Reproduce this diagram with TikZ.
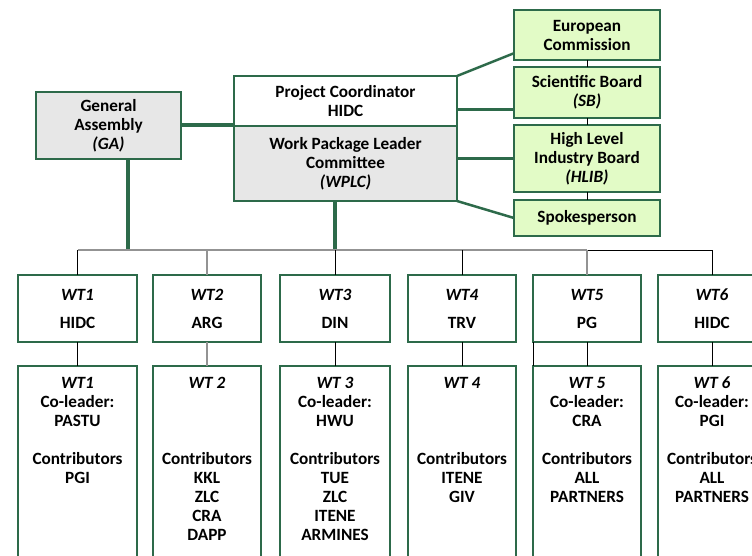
\documentclass[tikz,border=0pt]{standalone}
\usepackage{fontspec}
\setmainfont{Carlito}
\usetikzlibrary{positioning}
\definecolor{boxgreen}{RGB}{45,106,74}
\definecolor{lightgreen}{RGB}{226,251,198}
\definecolor{lightgrey}{RGB}{231,231,231}
\newcommand{\lowtext}[2]{\parbox[t][190pt][t]{#1}{\centering #2}}

\begin{document}
\begin{tikzpicture}[x=1pt,y=-1pt,font=\fontsize{17.2}{19}\selectfont\bfseries]
\tikzstyle{box}=[draw=boxgreen,line width=2.6pt,align=center,inner sep=0pt,outer sep=0pt]
\tikzstyle{gbox}=[box,fill=lightgrey]
\tikzstyle{pbox}=[box,fill=lightgreen,minimum width=146pt]
\tikzstyle{wt}=[box,fill=white,minimum width=108pt,minimum height=67pt]
\tikzstyle{lowbox}=[box,fill=white,inner ysep=11pt]
\tikzstyle{heavy}=[boxgreen,line width=4pt]
\tikzstyle{link}=[boxgreen,line width=2.5pt]
\tikzstyle{thin}=[black,line width=1pt]
\tikzstyle{grey}=[gray!85,line width=1.2pt]
\path[use as bounding box,clip] (0,0) rectangle (752,556);

% governance
\node[gbox,minimum width=145pt,minimum height=67pt] (ga) at (108.5,125.5) {General\\Assembly\\\textit{(GA)}};
\node[box,fill=white,minimum width=223pt,minimum height=50pt] (pc) at (345.5,101) {Project Coordinator\\HIDC};
\node[gbox,minimum width=223pt,minimum height=75pt,below=0pt of pc] (wplc) {Work Package Leader\\Committee\\\textit{(WPLC)}};

\node[pbox,minimum height=50pt] (ec) at (587,35) {European\\Commission};
\node[pbox,minimum height=51pt,below=7pt of ec] (sb) {Scientific Board\\\textit{(SB)}};
\node[pbox,minimum height=67pt,below=7pt of sb] (hlib) {High Level\\Industry Board\\\textit{(HLIB)}};
\node[pbox,minimum height=36pt,below=8pt of hlib] (sp) {Spokesperson};

% work tasks
\node[wt,minimum width=119pt] (wt1) at (77.5,308.5) {\textit{WT1}\\[9pt]HIDC};
\node[wt] (wt2) at (207,308.5) {\textit{WT2}\\[9pt]ARG};
\node[wt,minimum width=110pt] (wt3) at (335,308.5) {\textit{WT3}\\[9pt]DIN};
\node[wt] (wt4) at (462,308.5) {\textit{WT4}\\[9pt]TRV};
\node[wt] (wt5) at (587,308.5) {\textit{WT5}\\[9pt]PG};
\node[wt] (wt6) at (712,308.5) {\textit{WT6}\\[9pt]HIDC};

\node[lowbox,below=24pt of wt1,minimum width=119pt] (co1) {\lowtext{110pt}{\textit{WT1}\\Co-leader:\\PASTU\\[19pt]Contributors\\PGI}};
\node[lowbox,below=24pt of wt2,minimum width=108pt] (co2) {\lowtext{100pt}{\textit{WT 2}\\[57pt]Contributors\\KKL\\ZLC\\CRA\\DAPP}};
\node[lowbox,below=24pt of wt3,minimum width=110pt] (co3) {\lowtext{100pt}{\textit{WT 3}\\Co-leader:\\HWU\\[19pt]Contributors\\TUE\\ZLC\\ITENE\\ARMINES}};
\node[lowbox,below=24pt of wt4,minimum width=108pt] (co4) {\lowtext{100pt}{\textit{WT 4}\\[57pt]Contributors\\ITENE\\GIV}};
\node[lowbox,below=24pt of wt5,minimum width=108pt] (co5) {\lowtext{100pt}{\textit{WT 5}\\Co-leader:\\CRA\\[19pt]Contributors\\ALL\\PARTNERS}};
\node[lowbox,below=24pt of wt6,minimum width=108pt] (co6) {\lowtext{100pt}{\textit{WT 6}\\Co-leader:\\PGI\\[19pt]Contributors\\ALL\\PARTNERS}};

\coordinate (bus) at (0,250);
\coordinate (gadrop) at (128,250);

% links
\draw[heavy] (ga.east) -- (ga.east -| wplc.north west);
\draw[heavy] (gadrop |- ga.south) -- (gadrop);
\draw[heavy] (wplc.south -| wt3.north) -- (wt3.north |- bus);
\draw[link] (pc.north east) -- (ec.194);
\draw[link] (sb.193 -| pc.east) -- (sb.193);
\draw[link] (hlib.west -| pc.east) -- (hlib.west);
\draw[link] (wplc.south east) -- (sp.west);
\draw[thin] (ec) -- (sb);
\draw[thin] (sb) -- (hlib);
\draw[thin] (hlib) -- (sp);

% bus
\draw[grey] (wt1.north |- bus) -- (wt5.north |- bus);
\draw[thin] (wt5.north |- bus) -- (wt6.north |- bus);
\draw[thin] (wt1.north |- bus) -- (wt1.north);
\draw[grey] (wt2.north |- bus) -- (wt2.north);
\draw[thin] (wt3.north |- bus) -- (wt3.north);
\draw[thin] (wt4.north |- bus) -- (wt4.north);
\draw[grey] (wt5.north |- bus) -- (wt5.north);
\draw[thin] (wt6.north |- bus) -- (wt6.north);

\draw[thin] (wt1) -- (co1);
\draw[grey] (wt2) -- (co2);
\draw[thin] (wt3) -- (co3);
\draw[thin] (wt4) -- (co4);
\draw[thin] (wt5) -- (co5);
\draw[thin] (wt5.south west) -- (co5.north west);
\draw[thin] (wt6) -- (co6);
\end{tikzpicture}
\end{document}
